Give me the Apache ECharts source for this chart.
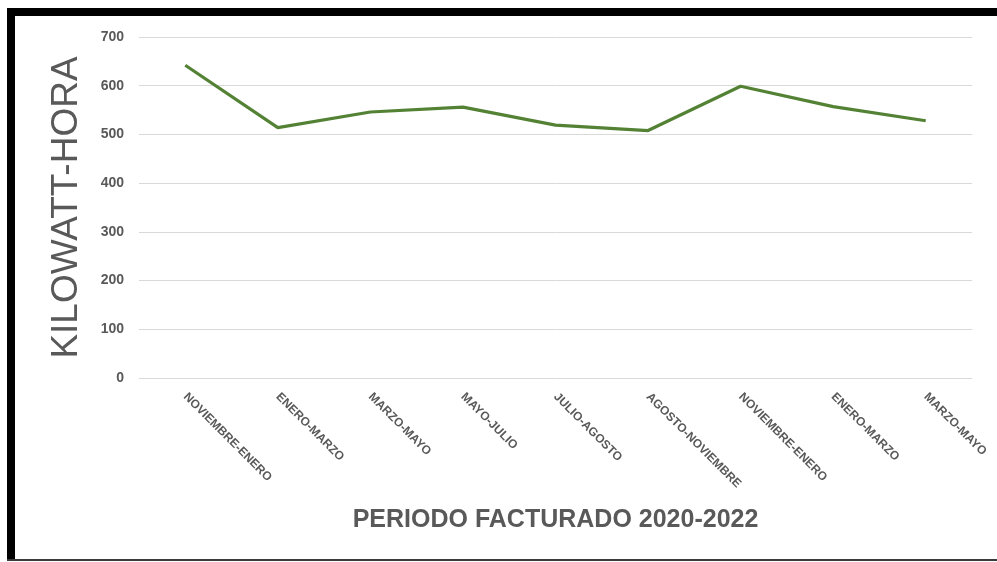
<!DOCTYPE html>
<html>
<head>
<meta charset="utf-8">
<script src="https://cdn.jsdelivr.net/npm/echarts@6/dist/echarts.min.js"></script>
<style>
  html, body { margin: 0; padding: 0; background: #fff; }
  #chart { width: 997px; height: 562px; }
</style>
</head>
<body>
<div id="chart"></div>
<script>
// periodos facturados
const periods = ['NOVIEMBRE-ENERO', 'ENERO-MARZO', 'MARZO-MAYO', 'MAYO-JULIO', 'JULIO-AGOSTO',
  'AGOSTO-NOVIEMBRE', 'NOVIEMBRE-ENERO', 'ENERO-MARZO', 'MARZO-MAYO']
// consumo kWh
const kwh = [642, 514, 546, 556, 519, 508, 599, 557, 528]

const chart = echarts.init(document.getElementById('chart'))

const option = {
  animation: false,
  grid: { left: 139, right: 25, top: 37, bottom: 184 },
  // marco negro
  graphic: [
    { type: 'rect', shape: { x: 7, y: 8, width: 990, height: 8 }, style: { fill: '#000' } },
    { type: 'rect', shape: { x: 7, y: 8, width: 8, height: 553 }, style: { fill: '#000' } },
    { type: 'rect', shape: { x: 7, y: 559, width: 990, height: 2 }, style: { fill: '#3a3a3a' } }
  ],
  xAxis: {
    type: 'category',
    data: periods,
    name: 'PERIODO FACTURADO 2020-2022',
    nameLocation: 'middle',
    nameGap: 130,
    nameTextStyle: { fontSize: 25, fontWeight: 'bold', color: '#595959', fontFamily: 'Liberation Sans' },
    axisLine: { show: false },
    axisTick: { show: false },
    axisLabel: {
      rotate: -45,
      interval: 0,
      margin: 17,
      fontSize: 12,
      fontWeight: 'bold',
      color: '#595959',
      fontFamily: 'Liberation Sans'
    }
  },
  yAxis: {
    type: 'value',
    min: 0,
    max: 700,
    interval: 100,
    name: 'KILOWATT-HORA',
    nameLocation: 'middle',
    nameGap: 54,
    nameTextStyle: { fontSize: 37, color: '#595959', fontFamily: 'Liberation Sans' },
    axisLine: { show: false },
    axisTick: { show: false },
    axisLabel: { margin: 15, fontSize: 14, fontWeight: 'bold', color: '#595959', fontFamily: 'Liberation Sans' },
    splitLine: { lineStyle: { color: '#d9d9d9', width: 1 } }
  },
  series: [
    {
      type: 'line',
      data: kwh,
      symbol: 'none',
      lineStyle: { color: '#548235', width: 3.2 }
    }
  ]
}

chart.setOption(option)
</script>
</body>
</html>
